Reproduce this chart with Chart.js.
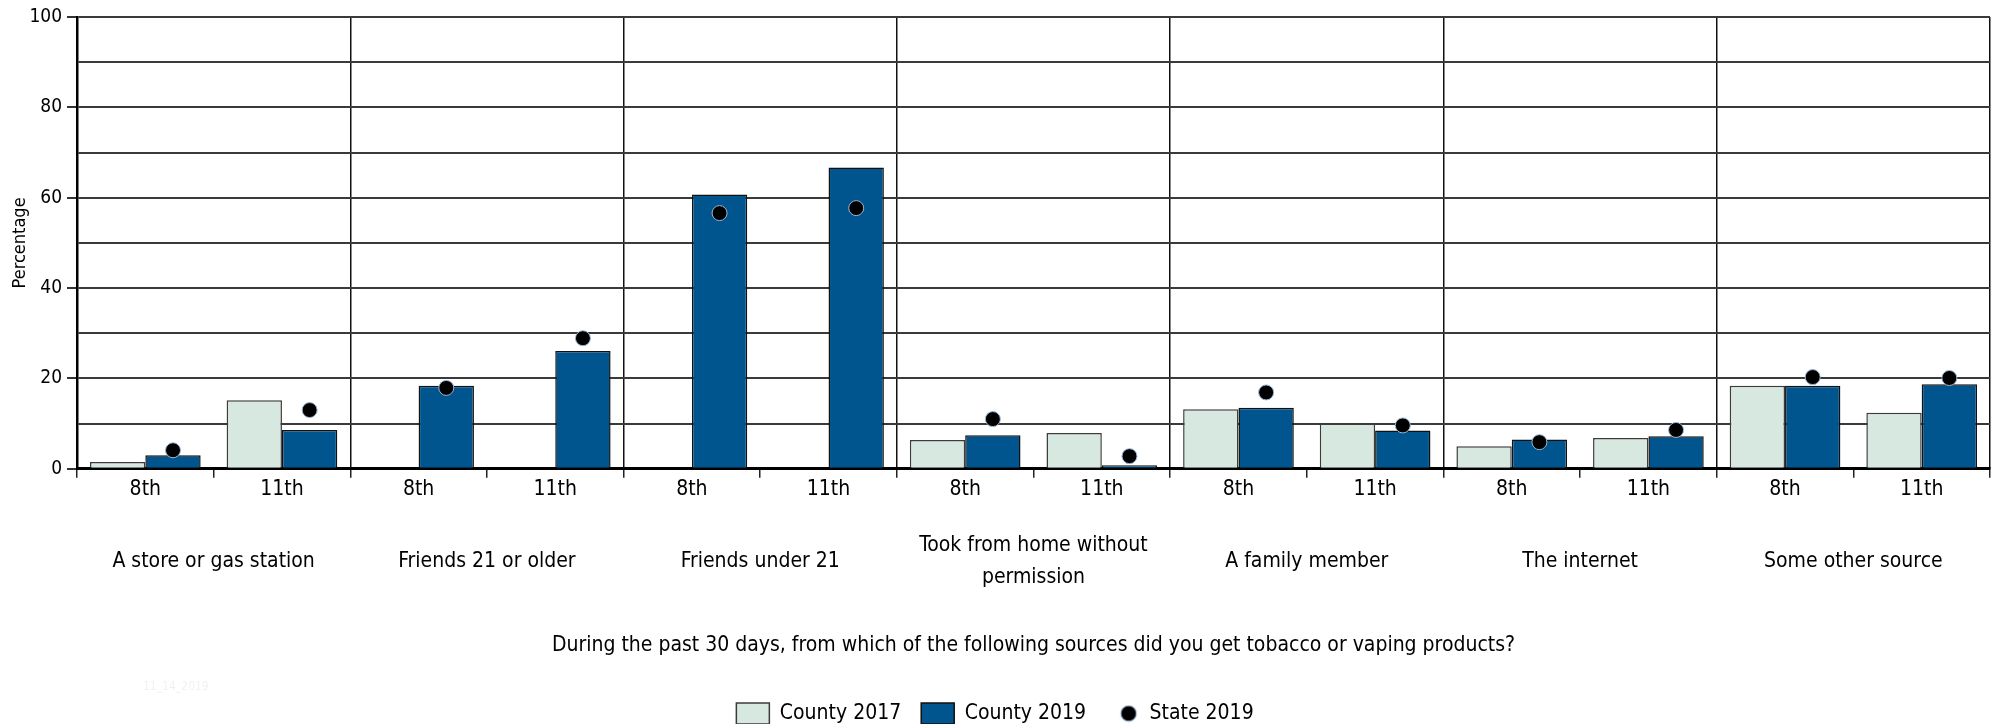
<!DOCTYPE html>
<html>
<head>
<meta charset="utf-8">
<script src="https://cdn.jsdelivr.net/npm/chart.js@4"></script>
<style>
  html, body { margin: 0; padding: 0; background: #fff; }
  #wrap { position: relative; width: 2000px; height: 724px; }
  #stamp { position: absolute; left: 143px; top: 679px; font: 12px 'DejaVu Sans Condensed', sans-serif; color: #f1f1f1; }
</style>
</head>
<body>
<div id="wrap">
  <canvas id="c" width="2000" height="724"></canvas>
  <div id="stamp">11_14_2019</div>
</div>
<script>
const groups = ['A store or gas station', 'Friends 21 or older', 'Friends under 21', ['Took from home without', 'permission'], 'A family member', 'The internet', 'Some other source'];
const grades = ['8th', '11th', '8th', '11th', '8th', '11th', '8th', '11th', '8th', '11th', '8th', '11th', '8th', '11th'];
const county2017 = [1.5, 15.2, null, null, null, null, 6.4, 7.9, 13.2, 10.0, 5.0, 6.8, 18.4, 12.4];
const county2019 = [3.0, 8.6, 18.4, 26.1, 60.7, 66.7, 7.4, 0.8, 13.5, 8.5, 6.5, 7.2, 18.4, 18.7];
const state2019 = [4.1, 13.0, 17.9, 28.9, 56.6, 57.7, 11.0, 2.8, 16.9, 9.6, 5.9, 8.6, 20.3, 20.1];
const yTicks = [0, 20, 40, 60, 80, 100];
const seriesNames = ['County 2017', 'County 2019', 'State 2019'];
const xTitle = 'During the past 30 days, from which of the following sources did you get tobacco or vaping products?';
const yTitle = 'Percentage';

const FONT = "'DejaVu Sans Condensed', 'Liberation Sans', sans-serif";
const LIGHT = '#d6e8e0', DARK = '#00558f';

// legend marker for the state dots (drawn a little right of the box centre)
const dotImg = document.createElement('canvas');
dotImg.width = 40; dotImg.height = 18;
(function () {
  const g = dotImg.getContext('2d');
  g.beginPath(); g.arc(26, 9, 7.8, 0, Math.PI * 2);
  g.fillStyle = '#000'; g.fill();
  g.lineWidth = 1; g.strokeStyle = '#9db8d9'; g.stroke();
})();

// place each state dot over the County 2019 bar of its category
const alignDots = {
  id: 'alignDots',
  afterDatasetsUpdate(chart) {
    const bars = chart.getDatasetMeta(1).data;
    chart.getDatasetMeta(2).data.forEach((pt, i) => { if (bars[i]) pt.x = bars[i].x; });
  }
};

new Chart(document.getElementById('c'), {
  data: {
    labels: grades,
    datasets: [
      { type: 'bar', label: seriesNames[0], data: county2017, backgroundColor: LIGHT, borderColor: '#3c3c3c', borderWidth: 1.5, borderSkipped: 'bottom', xAxisID: 'x', order: 1 },
      { type: 'bar', label: seriesNames[1], data: county2019, backgroundColor: DARK, borderColor: '#111', borderWidth: 1.5, borderSkipped: 'bottom', xAxisID: 'x', order: 1 },
      { type: 'line', label: seriesNames[2], data: state2019, showLine: false, pointRadius: 7.5, pointHoverRadius: 7.5, pointBackgroundColor: '#000', pointBorderColor: '#9db8d9', pointBorderWidth: 1, xAxisID: 'x', order: 0, pointStyle: 'circle' }
    ]
  },
  options: {
    responsive: false,
    animation: false,
    devicePixelRatio: 1,
    layout: { padding: { top: 17, right: 10, left: 0, bottom: -10 } },
    datasets: { bar: { categoryPercentage: 0.81, barPercentage: 1.0 } },
    scales: {
      x: {
        type: 'category',
        position: 'bottom',
        offset: true,
        grid: { offset: true, drawOnChartArea: false, drawTicks: true, tickLength: 9, color: '#222', lineWidth: 1.5 },
        border: { display: true, color: '#000', width: 3 },
        ticks: { color: '#000', font: { family: FONT, size: 21, lineHeight: 1 }, padding: 1, maxRotation: 0, autoSkip: false }
      },
      x2: {
        type: 'category',
        position: 'bottom',
        labels: groups,
        offset: true,
        grid: { offset: true, drawOnChartArea: true, drawTicks: false, color: '#111', lineWidth: 1.5 },
        border: { display: false },
        ticks: { color: '#000', font: { family: FONT, size: 21, lineHeight: 32 / 21 }, padding: 45, maxRotation: 0, autoSkip: false, crossAlign: 'center' },
        title: { display: true, text: xTitle, color: '#000', font: { family: FONT, size: 21, lineHeight: 1.2 }, padding: { top: -22, bottom: 25 } }
      },
      y: {
        min: 0, max: 100,
        afterFit(s) { s.width = 77; },
        afterBuildTicks(s) { s.ticks = []; for (let v = 0; v <= 100; v += 10) s.ticks.push({ value: v }); },
        grid: {
          color: '#3a3a3a', lineWidth: 2, drawTicks: true, tickLength: 10,
          tickColor: (ctx) => (ctx.tick && yTicks.includes(ctx.tick.value)) ? '#333' : 'rgba(0,0,0,0)'
        },
        border: { display: true, color: '#000', width: 2.5 },
        ticks: {
          color: '#000', padding: 5, font: { family: FONT, size: 19 },
          callback: (v) => yTicks.includes(v) ? String(v) : ''
        },
        title: { display: true, text: yTitle, color: '#000', font: { family: FONT, size: 18 }, padding: { top: 10, bottom: 0 } }
      }
    },
    plugins: {
      tooltip: { enabled: false },
      legend: {
        position: 'bottom',
        labels: {
          color: '#000',
          font: { family: FONT, size: 21 },
          usePointStyle: true,
          pointStyleWidth: 33,
          boxWidth: 33,
          boxHeight: 21,
          padding: 20,
          sort: (a, b) => a.datasetIndex - b.datasetIndex,
          generateLabels(chart) {
            const items = Chart.defaults.plugins.legend.labels.generateLabels(chart);
            items.forEach((it) => {
              it.pointStyle = (it.datasetIndex === 2) ? dotImg : 'rect';
            });
            return items;
          }
        }
      }
    }
  },
  plugins: [alignDots]
});
</script>
</body>
</html>
